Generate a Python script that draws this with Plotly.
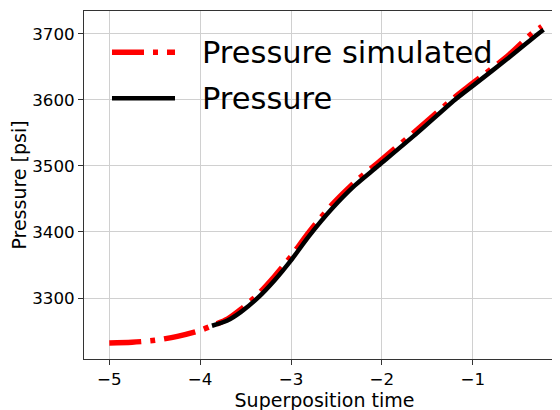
import plotly.graph_objects as go

# Simulated pressure (red dash-dot)
sim_x = [-5.0, -4.75, -4.5, -4.25, -4.0, -3.87, -3.7, -3.55, -3.36, -3.18, -3.0,
         -2.8, -2.55, -2.3, -2.04, -1.6, -1.195, -1.0, -0.6, -0.35, -0.24]
sim_y = [3232, 3233, 3236, 3242, 3251, 3258, 3268, 3283, 3306, 3333, 3363,
         3400, 3441, 3475, 3505, 3556, 3604, 3625, 3668, 3700, 3711]

# Measured pressure (black)
obs_x = [-3.87, -3.7, -3.55, -3.36, -3.18, -3.0, -2.8, -2.55, -2.3, -2.04,
         -1.6, -1.195, -1.0, -0.6, -0.278, -0.22]
obs_y = [3258, 3266, 3279, 3301, 3327, 3357, 3394, 3435, 3470, 3500,
         3551, 3600, 3621, 3664, 3700, 3706]

x_ticks = [-5, -4, -3, -2, -1, 0]
y_ticks = [3300, 3400, 3500, 3600, 3700]

series_names = ["Pressure simulated", "Pressure"]
series_colors = ["#ff0000", "#000000"]
series_widths = [5.5, 4.5]
series_dashes = ["32px,9px,5px,9px", "solid"]

FONT = "DejaVu Sans"

fig = go.Figure()
fig.add_trace(go.Scatter(
    x=sim_x, y=sim_y, mode="lines", name=series_names[0], showlegend=False,
    line=dict(color=series_colors[0], width=series_widths[0], dash=series_dashes[0],
              shape="spline", smoothing=0.8),
))
fig.add_trace(go.Scatter(
    x=obs_x, y=obs_y, mode="lines", name=series_names[1], showlegend=False,
    line=dict(color=series_colors[1], width=series_widths[1],
              shape="spline", smoothing=0.8),
))

# Legend drawn as line samples + text (matplotlib-style long handles)
legend_rows_y = [0.8813, 0.7491]
for name, color, width, dash, ly in zip(series_names, series_colors, series_widths,
                                         series_dashes, legend_rows_y):
    fig.add_shape(type="line", xref="paper", yref="paper",
                  x0=0.0582, x1=0.1892, y0=ly, y1=ly,
                  line=dict(color=color, width=width, dash=dash))
    fig.add_annotation(xref="paper", yref="paper", x=0.2412, y=ly,
                       xanchor="left", yanchor="middle", showarrow=False,
                       text=name, font=dict(family=FONT, size=30.5, color="#000000"))

axis_common = dict(
    showgrid=True, gridcolor="#d0d0d0", gridwidth=1,
    showline=True, linecolor="#333333", linewidth=1,
    ticks="outside", ticklen=5, tickwidth=1, tickcolor="#333333",
    tickfont=dict(family=FONT, size=16.7, color="#000000"),
    zeroline=False, automargin=False,
)

fig.update_layout(
    width=560, height=410,
    margin=dict(l=76, r=3, t=3, b=59),
    paper_bgcolor="white", plot_bgcolor="white",
    font=dict(family=FONT, color="#000000"),
    showlegend=False,
    xaxis=dict(
        range=[-5.2785, 0.0159], tickvals=x_ticks, mirror=True,
        title=dict(text="Superposition time", font=dict(family=FONT, size=19), standoff=5),
        **axis_common,
    ),
    yaxis=dict(
        range=[3207.7, 3734.3], tickvals=y_ticks, mirror=False,
        title=dict(text="Pressure [psi]", font=dict(family=FONT, size=19), standoff=7),
        **axis_common,
    ),
)

fig.write_html("out.html")
